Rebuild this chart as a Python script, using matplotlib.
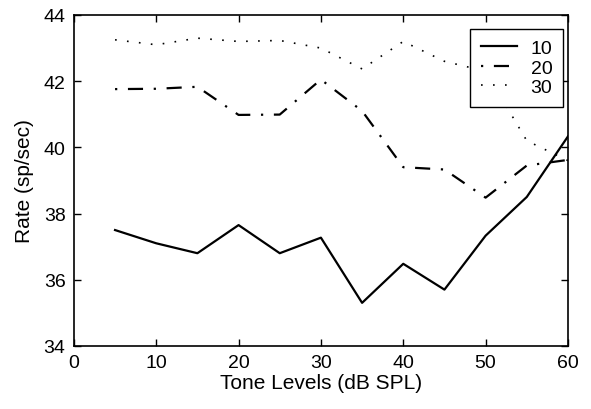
import matplotlib
matplotlib.use("Agg")
import matplotlib.pyplot as plt

levels = [5, 10, 15, 20, 25, 30, 35, 40, 45, 50, 55, 60]
rate_10 = [37.5, 37.1, 36.8, 37.65, 36.8, 37.27, 35.3, 36.48, 35.7, 37.33, 38.5, 40.33]
rate_20 = [41.76, 41.77, 41.83, 40.98, 40.99, 42.05, 41.1, 39.4, 39.33, 38.48, 39.45, 39.62]
rate_30 = [43.25, 43.1, 43.3, 43.2, 43.23, 43.0, 42.37, 43.2, 42.6, 42.3, 40.2, 39.6]
labels = ["10", "20", "30"]

plt.rcParams['font.family'] = ['Liberation Sans', 'DejaVu Sans']
fig = plt.figure(figsize=(5.91, 4.10), dpi=100)
ax = fig.add_axes([0.125, 0.154, 0.836, 0.807])

ax.plot(levels, rate_10, color='black', lw=1.6, linestyle='-', label=labels[0])
ax.plot(levels, rate_20, color='black', lw=1.6, linestyle=(0, (1, 4.8, 6.8, 4.8)), label=labels[1])
ax.plot(levels, rate_30, color='black', lw=1.2, linestyle=(0, (1, 6.2)), label=labels[2])

ax.set_xlim(0, 60)
ax.set_ylim(34, 44)
ax.set_xticks([0, 10, 20, 30, 40, 50, 60])
ax.set_yticks([34, 36, 38, 40, 42, 44])
ax.tick_params(direction='in', top=True, right=True, labelsize=14, length=5, width=1)
ax.tick_params(axis='x', pad=6)
ax.tick_params(axis='y', pad=6)
for s in ax.spines.values():
    s.set_linewidth(1.2)
ax.set_xlabel("Tone Levels (dB SPL)", fontsize=15, labelpad=1)
ax.set_ylabel("Rate (sp/sec)", fontsize=15, labelpad=7)
leg = ax.legend(loc='upper right', bbox_to_anchor=(0.990, 0.958), borderaxespad=0,
                fontsize=14, fancybox=False, framealpha=1, edgecolor='black',
                handlelength=1.85, handletextpad=0.7, labelspacing=0.1, borderpad=0.55)
leg.get_frame().set_linewidth(1.0)
fig.savefig("out.png", dpi=100)
